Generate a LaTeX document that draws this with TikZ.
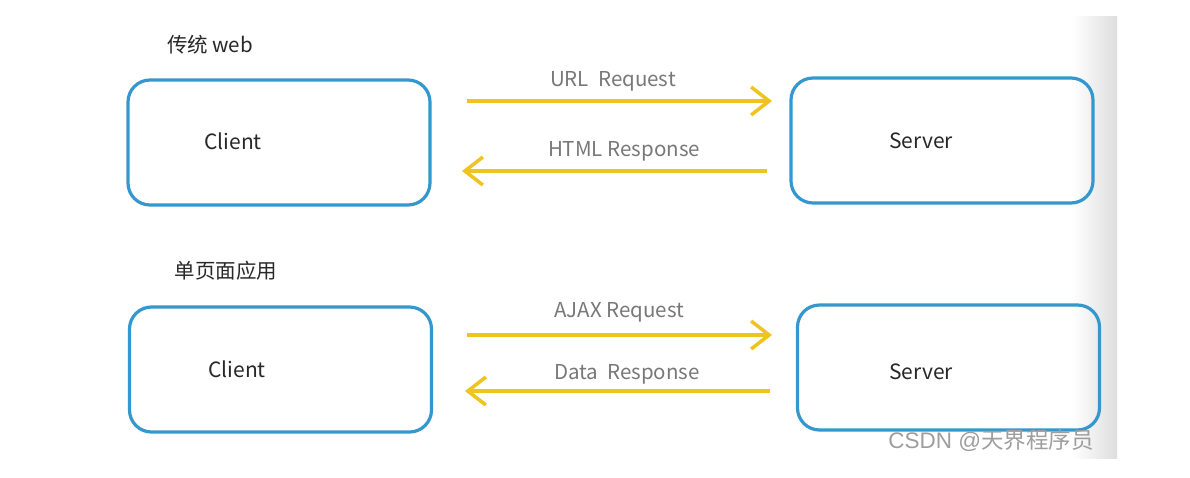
\documentclass[tikz,border=0pt]{standalone}
\usepackage{fontspec}
\setmainfont{Noto Sans CJK SC}
\newfontfamily\cjk{Noto Sans CJK SC}
\newfontfamily\wmfont{Liberation Sans}
\usetikzlibrary{arrows.meta}
\definecolor{boxblue}{RGB}{52,152,206}
\definecolor{arrowyellow}{RGB}{240,196,30}
\definecolor{labelgray}{RGB}{120,120,120}
\definecolor{textdark}{RGB}{40,40,40}
\tikzset{
  boxnode/.style={draw=boxblue, line width=3.2pt, rounded corners=22pt, minimum width=302pt, minimum height=125pt, inner sep=0pt},
  boxtext/.style={text=textdark, font=\fontsize{21}{25}\selectfont, inner sep=0pt, anchor=center},
  titletext/.style={text=textdark, font=\cjk\fontsize{20.5}{24}\selectfont, inner sep=0pt, anchor=center},
  msgarrow/.style={draw=arrowyellow, line width=3.5pt, -{Straight Barb[length=18pt,width=28pt,line width=3.5pt]}},
  msglabel/.style={text=labelgray, font=\fontsize{20.5}{24}\selectfont, inner sep=0pt, anchor=center}
}
\begin{document}
\begin{tikzpicture}[x=1pt,y=-1pt]
\useasboundingbox (0,0) rectangle (1190,477);
\fill[white] (0,0) rectangle (1190,477);
\shade[left color=white, right color=black!13] (1072,16) rectangle (1117,458);

% titles
\node[titletext] (t1) at (210,45) {传统 web};
\node[titletext] (t2) at (226,271) {单页面应用};

% boxes
\node[boxnode] (c1) at (279,142.5) {};
\node[boxtext] (c1t) at (233,141) {Client};
\node[boxnode] (s1) at (942,140.5) {};
\node[boxtext] (s1t) at (921,141) {Server};
\node[boxnode] (c2) at (280.5,369.5) {};
\node[boxtext] (c2t) at (237,369) {Client};
\node[boxnode] (s2) at (948.5,367.5) {};
\node[boxtext] (s2t) at (921,372) {Server};

% arrow ends
\coordinate (a1s) at (467,101);
\coordinate (a1e) at (772,101);
\coordinate (a2s) at (767,171);
\coordinate (a2e) at (462,171);
\coordinate (a3s) at (467,335);
\coordinate (a3e) at (772,335);
\coordinate (a4s) at (770,391);
\coordinate (a4e) at (465,391);

\draw[msgarrow] (a1s) -- (a1e);
\draw[msgarrow] (a2s) -- (a2e);
\draw[msgarrow] (a3s) -- (a3e);
\draw[msgarrow] (a4s) -- (a4e);

\node[msglabel] (l1) at (613,81) {URL\ \ Request};
\node[msglabel] (l2) at (624,151) {HTML Response};
\node[msglabel] (l3) at (619,312) {AJAX Request};
\node[msglabel] (l4) at (627,374) {Data\ \ Response};

% watermark
\node[text=black!38, font=\fontsize{22.5}{26}\selectfont, inner sep=0pt, anchor=center] (wm) at (991,441) {{\wmfont CSDN @}{\cjk 天界程序员}};
\end{tikzpicture}
\end{document}
